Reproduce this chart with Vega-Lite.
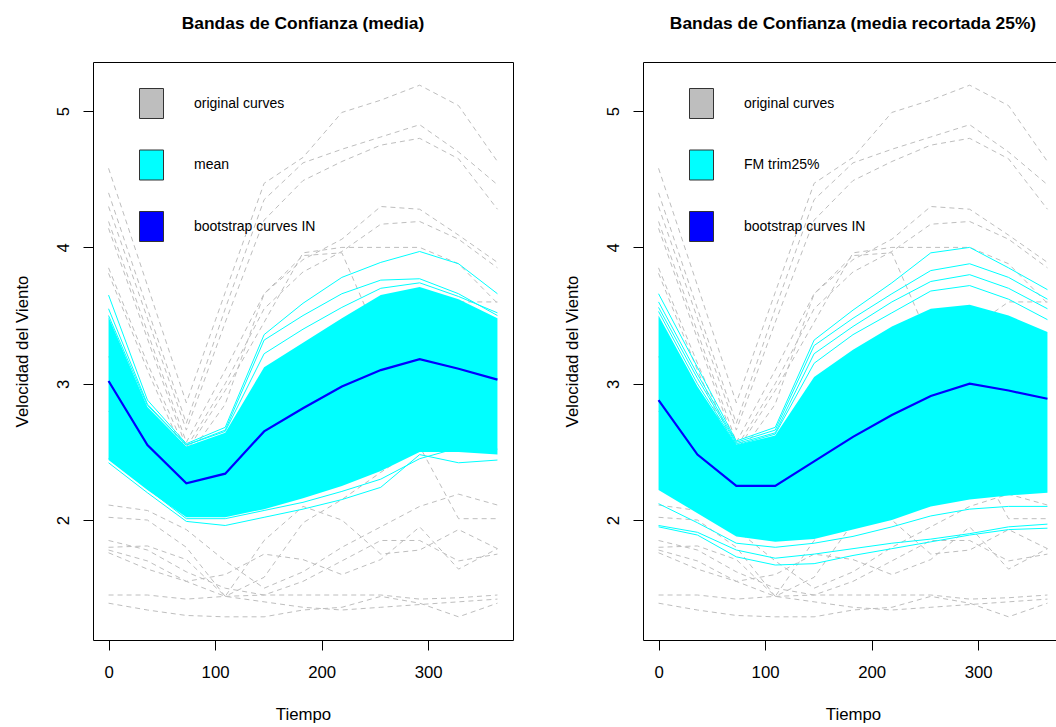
{
  "$schema": "https://vega.github.io/schema/vega-lite/v6.json",
  "usermeta": {"embedOptions": {"actions": false}},
  "background": "white",
  "padding": {"left": 13, "top": 14, "right": 0, "bottom": 0},
  "bounds": "flush",
  "spacing": 130,
  "config": {
    "font": "Liberation Sans",
    "view": {"stroke": "black", "strokeWidth": 1},
    "axis": {"grid": false, "domain": false, "tickColor": "black", "tickSize": 10, "tickWidth": 1, "labelFont": "Liberation Sans", "labelFontSize": 16.8, "labelColor": "black", "titleFont": "Liberation Sans", "titleFontSize": 16.8, "titleFontWeight": "normal", "titleColor": "black", "labelFlush": false, "labelOverlap": false},
    "axisX": {"labelPadding": 14, "labelBaseline": "top", "labelAlign": "center", "titleY": 79, "titleBaseline": "alphabetic", "titleAlign": "center", "titleX": 210},
    "axisY": {"labelAngle": -90, "labelAlign": "center", "labelBaseline": "bottom", "labelPadding": 11, "titleAngle": -90, "titleX": -66, "titleY": 289, "titleAlign": "center", "titleBaseline": "alphabetic"}
  },
  "datasets": {
    "orig": [
      {"c":"G1","t":0,"v":4.58},{"c":"G1","t":36.5,"v":3.72},{"c":"G1","t":73,"v":2.86},{"c":"G1","t":109.5,"v":3.67},{"c":"G1","t":146,"v":4.47},{"c":"G1","t":182.5,"v":4.66},{"c":"G1","t":219,"v":4.99},{"c":"G1","t":255.5,"v":5.08},{"c":"G1","t":292,"v":5.19},{"c":"G1","t":328.5,"v":5.04},{"c":"G1","t":365,"v":4.63},
      {"c":"G2","t":0,"v":4.40},{"c":"G2","t":36.5,"v":3.55},{"c":"G2","t":73,"v":2.71},{"c":"G2","t":109.5,"v":3.55},{"c":"G2","t":146,"v":4.35},{"c":"G2","t":182.5,"v":4.62},{"c":"G2","t":219,"v":4.72},{"c":"G2","t":255.5,"v":4.81},{"c":"G2","t":292,"v":4.90},{"c":"G2","t":328.5,"v":4.70},{"c":"G2","t":365,"v":4.46},
      {"c":"G3","t":0,"v":4.30},{"c":"G3","t":36.5,"v":3.48},{"c":"G3","t":73,"v":2.66},{"c":"G3","t":109.5,"v":3.45},{"c":"G3","t":146,"v":4.20},{"c":"G3","t":182.5,"v":4.49},{"c":"G3","t":219,"v":4.63},{"c":"G3","t":255.5,"v":4.75},{"c":"G3","t":292,"v":4.80},{"c":"G3","t":328.5,"v":4.65},{"c":"G3","t":365,"v":4.28},
      {"c":"G4","t":0,"v":4.19},{"c":"G4","t":36.5,"v":3.38},{"c":"G4","t":73,"v":2.57},{"c":"G4","t":109.5,"v":3.10},{"c":"G4","t":146,"v":3.66},{"c":"G4","t":182.5,"v":3.91},{"c":"G4","t":219,"v":4.06},{"c":"G4","t":255.5,"v":4.30},{"c":"G4","t":292,"v":4.28},{"c":"G4","t":328.5,"v":4.09},{"c":"G4","t":365,"v":3.89},
      {"c":"G5","t":0,"v":4.14},{"c":"G5","t":36.5,"v":3.33},{"c":"G5","t":73,"v":2.53},{"c":"G5","t":109.5,"v":3.00},{"c":"G5","t":146,"v":3.55},{"c":"G5","t":182.5,"v":3.82},{"c":"G5","t":219,"v":3.97},{"c":"G5","t":255.5,"v":4.17},{"c":"G5","t":292,"v":4.19},{"c":"G5","t":328.5,"v":4.06},{"c":"G5","t":365,"v":3.85},
      {"c":"G6","t":0,"v":3.85},{"c":"G6","t":36.5,"v":3.15},{"c":"G6","t":73,"v":2.50},{"c":"G6","t":109.5,"v":2.95},{"c":"G6","t":146,"v":3.45},{"c":"G6","t":182.5,"v":3.96},{"c":"G6","t":219,"v":4.00},{"c":"G6","t":255.5,"v":4.00},{"c":"G6","t":292,"v":4.00},{"c":"G6","t":328.5,"v":3.88},{"c":"G6","t":365,"v":3.59},
      {"c":"G7","t":0,"v":3.81},{"c":"G7","t":36.5,"v":3.10},{"c":"G7","t":73,"v":2.45},{"c":"G7","t":109.5,"v":2.85},{"c":"G7","t":146,"v":3.66},{"c":"G7","t":182.5,"v":3.94},{"c":"G7","t":219,"v":3.96},{"c":"G7","t":255.5,"v":3.30},{"c":"G7","t":292,"v":3.40},{"c":"G7","t":328.5,"v":3.60},{"c":"G7","t":365,"v":3.60},
      {"c":"M1","t":0,"v":3.20},{"c":"M1","t":36.5,"v":2.70},{"c":"M1","t":73,"v":2.30},{"c":"M1","t":109.5,"v":2.45},{"c":"M1","t":146,"v":2.75},{"c":"M1","t":182.5,"v":2.95},{"c":"M1","t":219,"v":3.10},{"c":"M1","t":255.5,"v":3.20},{"c":"M1","t":292,"v":3.25},{"c":"M1","t":328.5,"v":3.15},{"c":"M1","t":365,"v":3.05},
      {"c":"M2","t":0,"v":2.80},{"c":"M2","t":36.5,"v":2.45},{"c":"M2","t":73,"v":2.15},{"c":"M2","t":109.5,"v":2.20},{"c":"M2","t":146,"v":2.45},{"c":"M2","t":182.5,"v":2.65},{"c":"M2","t":219,"v":2.80},{"c":"M2","t":255.5,"v":2.95},{"c":"M2","t":292,"v":3.00},{"c":"M2","t":328.5,"v":2.90},{"c":"M2","t":365,"v":2.80},
      {"c":"B1","t":0,"v":2.11},{"c":"B1","t":36.5,"v":2.07},{"c":"B1","t":73,"v":1.93},{"c":"B1","t":109.5,"v":1.70},{"c":"B1","t":146,"v":1.50},{"c":"B1","t":182.5,"v":1.62},{"c":"B1","t":219,"v":1.80},{"c":"B1","t":255.5,"v":1.95},{"c":"B1","t":292,"v":2.10},{"c":"B1","t":328.5,"v":2.19},{"c":"B1","t":365,"v":2.11},
      {"c":"B2","t":0,"v":2.02},{"c":"B2","t":36.5,"v":2.00},{"c":"B2","t":73,"v":1.80},{"c":"B2","t":109.5,"v":1.44},{"c":"B2","t":146,"v":1.58},{"c":"B2","t":182.5,"v":1.98},{"c":"B2","t":219,"v":2.15},{"c":"B2","t":255.5,"v":2.35},{"c":"B2","t":292,"v":2.54},{"c":"B2","t":328.5,"v":2.01},{"c":"B2","t":365,"v":2.01},
      {"c":"B3","t":0,"v":1.80},{"c":"B3","t":36.5,"v":1.81},{"c":"B3","t":73,"v":1.71},{"c":"B3","t":109.5,"v":1.44},{"c":"B3","t":146,"v":1.85},{"c":"B3","t":182.5,"v":2.10},{"c":"B3","t":219,"v":2.00},{"c":"B3","t":255.5,"v":1.75},{"c":"B3","t":292,"v":1.78},{"c":"B3","t":328.5,"v":1.93},{"c":"B3","t":365,"v":1.79},
      {"c":"B4","t":0,"v":1.78},{"c":"B4","t":36.5,"v":1.70},{"c":"B4","t":73,"v":1.55},{"c":"B4","t":109.5,"v":1.60},{"c":"B4","t":146,"v":1.75},{"c":"B4","t":182.5,"v":1.71},{"c":"B4","t":219,"v":1.60},{"c":"B4","t":255.5,"v":1.71},{"c":"B4","t":292,"v":1.95},{"c":"B4","t":328.5,"v":1.64},{"c":"B4","t":365,"v":1.79},
      {"c":"B5","t":0,"v":1.76},{"c":"B5","t":36.5,"v":1.64},{"c":"B5","t":73,"v":1.55},{"c":"B5","t":109.5,"v":1.44},{"c":"B5","t":146,"v":1.40},{"c":"B5","t":182.5,"v":1.36},{"c":"B5","t":219,"v":1.34},{"c":"B5","t":255.5,"v":1.36},{"c":"B5","t":292,"v":1.38},{"c":"B5","t":328.5,"v":1.40},{"c":"B5","t":365,"v":1.42},
      {"c":"B6","t":0,"v":1.45},{"c":"B6","t":36.5,"v":1.45},{"c":"B6","t":73,"v":1.42},{"c":"B6","t":109.5,"v":1.44},{"c":"B6","t":146,"v":1.45},{"c":"B6","t":182.5,"v":1.45},{"c":"B6","t":219,"v":1.45},{"c":"B6","t":255.5,"v":1.45},{"c":"B6","t":292,"v":1.42},{"c":"B6","t":328.5,"v":1.43},{"c":"B6","t":365,"v":1.45},
      {"c":"B7","t":0,"v":1.39},{"c":"B7","t":36.5,"v":1.34},{"c":"B7","t":73,"v":1.30},{"c":"B7","t":109.5,"v":1.29},{"c":"B7","t":146,"v":1.29},{"c":"B7","t":182.5,"v":1.34},{"c":"B7","t":219,"v":1.36},{"c":"B7","t":255.5,"v":1.44},{"c":"B7","t":292,"v":1.39},{"c":"B7","t":328.5,"v":1.29},{"c":"B7","t":365,"v":1.39},
      {"c":"B8","t":0,"v":1.85},{"c":"B8","t":36.5,"v":1.78},{"c":"B8","t":73,"v":1.62},{"c":"B8","t":109.5,"v":1.50},{"c":"B8","t":146,"v":1.45},{"c":"B8","t":182.5,"v":1.55},{"c":"B8","t":219,"v":1.70},{"c":"B8","t":255.5,"v":1.85},{"c":"B8","t":292,"v":1.85},{"c":"B8","t":328.5,"v":1.70},{"c":"B8","t":365,"v":1.75}
    ],
    "bandL": [
      {"t":0,"v":2.44,"v2":3.49,"s":"mean"},{"t":36.5,"v":2.22,"v2":2.83,"s":"mean"},{"t":73,"v":2.02,"v2":2.54,"s":"mean"},{"t":109.5,"v":2.02,"v2":2.64,"s":"mean"},{"t":146,"v":2.08,"v2":3.12,"s":"mean"},{"t":182.5,"v":2.16,"v2":3.30,"s":"mean"},{"t":219,"v":2.25,"v2":3.48,"s":"mean"},{"t":255.5,"v":2.36,"v2":3.65,"s":"mean"},{"t":292,"v":2.50,"v2":3.71,"s":"mean"},{"t":328.5,"v":2.50,"v2":3.62,"s":"mean"},{"t":365,"v":2.48,"v2":3.48,"s":"mean"}
    ],
    "bandR": [
      {"t":0,"v":2.22,"v2":3.50,"s":"FM trim25%"},{"t":36.5,"v":2.05,"v2":2.98,"s":"FM trim25%"},{"t":73,"v":1.88,"v2":2.55,"s":"FM trim25%"},{"t":109.5,"v":1.84,"v2":2.62,"s":"FM trim25%"},{"t":146,"v":1.86,"v2":3.05,"s":"FM trim25%"},{"t":182.5,"v":1.93,"v2":3.25,"s":"FM trim25%"},{"t":219,"v":2.00,"v2":3.42,"s":"FM trim25%"},{"t":255.5,"v":2.10,"v2":3.55,"s":"FM trim25%"},{"t":292,"v":2.15,"v2":3.58,"s":"FM trim25%"},{"t":328.5,"v":2.18,"v2":3.50,"s":"FM trim25%"},{"t":365,"v":2.20,"v2":3.38,"s":"FM trim25%"}
    ],
    "cyanL": [
      {"c":"L1","t":0,"v":3.65},{"c":"L1","t":36.5,"v":2.88},{"c":"L1","t":73,"v":2.56},{"c":"L1","t":109.5,"v":2.68},{"c":"L1","t":146,"v":3.36},{"c":"L1","t":182.5,"v":3.59},{"c":"L1","t":219,"v":3.78},{"c":"L1","t":255.5,"v":3.89},{"c":"L1","t":292,"v":3.97},{"c":"L1","t":328.5,"v":3.88},{"c":"L1","t":365,"v":3.66},
      {"c":"L2","t":0,"v":3.55},{"c":"L2","t":36.5,"v":2.85},{"c":"L2","t":73,"v":2.55},{"c":"L2","t":109.5,"v":2.66},{"c":"L2","t":146,"v":3.32},{"c":"L2","t":182.5,"v":3.50},{"c":"L2","t":219,"v":3.66},{"c":"L2","t":255.5,"v":3.76},{"c":"L2","t":292,"v":3.77},{"c":"L2","t":328.5,"v":3.66},{"c":"L2","t":365,"v":3.50},
      {"c":"L3","t":0,"v":3.50},{"c":"L3","t":36.5,"v":2.84},{"c":"L3","t":73,"v":2.55},{"c":"L3","t":109.5,"v":2.65},{"c":"L3","t":146,"v":3.22},{"c":"L3","t":182.5,"v":3.40},{"c":"L3","t":219,"v":3.56},{"c":"L3","t":255.5,"v":3.70},{"c":"L3","t":292,"v":3.74},{"c":"L3","t":328.5,"v":3.64},{"c":"L3","t":365,"v":3.52},
      {"c":"L4","t":0,"v":2.42},{"c":"L4","t":36.5,"v":2.20},{"c":"L4","t":73,"v":1.99},{"c":"L4","t":109.5,"v":1.96},{"c":"L4","t":146,"v":2.02},{"c":"L4","t":182.5,"v":2.08},{"c":"L4","t":219,"v":2.15},{"c":"L4","t":255.5,"v":2.24},{"c":"L4","t":292,"v":2.48},{"c":"L4","t":328.5,"v":2.42},{"c":"L4","t":365,"v":2.44},
      {"c":"L5","t":0,"v":2.45},{"c":"L5","t":36.5,"v":2.23},{"c":"L5","t":73,"v":2.01},{"c":"L5","t":109.5,"v":2.01},{"c":"L5","t":146,"v":2.07},{"c":"L5","t":182.5,"v":2.13},{"c":"L5","t":219,"v":2.21},{"c":"L5","t":255.5,"v":2.30},{"c":"L5","t":292,"v":2.45},{"c":"L5","t":328.5,"v":2.53},{"c":"L5","t":365,"v":2.52}
    ],
    "cyanR": [
      {"c":"R1","t":0,"v":3.66},{"c":"R1","t":36.5,"v":3.12},{"c":"R1","t":73,"v":2.58},{"c":"R1","t":109.5,"v":2.68},{"c":"R1","t":146,"v":3.32},{"c":"R1","t":182.5,"v":3.54},{"c":"R1","t":219,"v":3.74},{"c":"R1","t":255.5,"v":3.96},{"c":"R1","t":292,"v":4.00},{"c":"R1","t":328.5,"v":3.85},{"c":"R1","t":365,"v":3.69},
      {"c":"R2","t":0,"v":3.60},{"c":"R2","t":36.5,"v":3.07},{"c":"R2","t":73,"v":2.57},{"c":"R2","t":109.5,"v":2.66},{"c":"R2","t":146,"v":3.28},{"c":"R2","t":182.5,"v":3.48},{"c":"R2","t":219,"v":3.66},{"c":"R2","t":255.5,"v":3.83},{"c":"R2","t":292,"v":3.88},{"c":"R2","t":328.5,"v":3.78},{"c":"R2","t":365,"v":3.62},
      {"c":"R3","t":0,"v":3.56},{"c":"R3","t":36.5,"v":3.04},{"c":"R3","t":73,"v":2.56},{"c":"R3","t":109.5,"v":2.64},{"c":"R3","t":146,"v":3.22},{"c":"R3","t":182.5,"v":3.42},{"c":"R3","t":219,"v":3.60},{"c":"R3","t":255.5,"v":3.75},{"c":"R3","t":292,"v":3.80},{"c":"R3","t":328.5,"v":3.70},{"c":"R3","t":365,"v":3.55},
      {"c":"R4","t":0,"v":3.53},{"c":"R4","t":36.5,"v":3.00},{"c":"R4","t":73,"v":2.55},{"c":"R4","t":109.5,"v":2.63},{"c":"R4","t":146,"v":3.15},{"c":"R4","t":182.5,"v":3.36},{"c":"R4","t":219,"v":3.52},{"c":"R4","t":255.5,"v":3.68},{"c":"R4","t":292,"v":3.72},{"c":"R4","t":328.5,"v":3.62},{"c":"R4","t":365,"v":3.47},
      {"c":"R5","t":0,"v":2.12},{"c":"R5","t":36.5,"v":1.98},{"c":"R5","t":73,"v":1.83},{"c":"R5","t":109.5,"v":1.80},{"c":"R5","t":146,"v":1.83},{"c":"R5","t":182.5,"v":1.88},{"c":"R5","t":219,"v":1.95},{"c":"R5","t":255.5,"v":2.03},{"c":"R5","t":292,"v":2.08},{"c":"R5","t":328.5,"v":2.10},{"c":"R5","t":365,"v":2.10},
      {"c":"R6","t":0,"v":1.95},{"c":"R6","t":36.5,"v":1.89},{"c":"R6","t":73,"v":1.73},{"c":"R6","t":109.5,"v":1.67},{"c":"R6","t":146,"v":1.68},{"c":"R6","t":182.5,"v":1.74},{"c":"R6","t":219,"v":1.79},{"c":"R6","t":255.5,"v":1.84},{"c":"R6","t":292,"v":1.89},{"c":"R6","t":328.5,"v":1.93},{"c":"R6","t":365,"v":1.94},
      {"c":"R7","t":0,"v":1.96},{"c":"R7","t":36.5,"v":1.91},{"c":"R7","t":73,"v":1.78},{"c":"R7","t":109.5,"v":1.72},{"c":"R7","t":146,"v":1.75},{"c":"R7","t":182.5,"v":1.79},{"c":"R7","t":219,"v":1.83},{"c":"R7","t":255.5,"v":1.86},{"c":"R7","t":292,"v":1.90},{"c":"R7","t":328.5,"v":1.95},{"c":"R7","t":365,"v":1.97}
    ],
    "meanL": [
      {"t":0,"v":3.02},{"t":36.5,"v":2.55},{"t":73,"v":2.27},{"t":109.5,"v":2.34},{"t":146,"v":2.65},{"t":182.5,"v":2.82},{"t":219,"v":2.98},{"t":255.5,"v":3.10},{"t":292,"v":3.18},{"t":328.5,"v":3.11},{"t":365,"v":3.03}
    ],
    "meanR": [
      {"t":0,"v":2.88},{"t":36.5,"v":2.48},{"t":73,"v":2.25},{"t":109.5,"v":2.25},{"t":146,"v":2.43},{"t":182.5,"v":2.61},{"t":219,"v":2.77},{"t":255.5,"v":2.91},{"t":292,"v":3.00},{"t":328.5,"v":2.95},{"t":365,"v":2.89}
    ]
  },
  "hconcat": [
    {
      "width": 420,
      "height": 578,
      "title": {"text": "Bandas de Confianza (media)", "fontSize": 17.4, "fontWeight": "bold", "font": "Liberation Sans", "baseline": "alphabetic", "offset": 16, "frame": "group", "anchor": "middle", "color": "black"},
      "layer": [
        {
          "data": {"name": "orig"},
          "mark": {"type": "line", "color": "#BEBEBE", "strokeWidth": 1, "strokeDash": [5, 4], "clip": true},
          "encoding": {
            "x": {"field": "t", "type": "quantitative", "title": "Tiempo", "scale": {"domain": [-14.6, 379.6], "nice": false, "zero": false}, "axis": {"values": [0, 100, 200, 300]}},
            "y": {"field": "v", "type": "quantitative", "title": "Velocidad del Viento", "scale": {"domain": [1.12, 5.36], "nice": false, "zero": false}, "axis": {"values": [2, 3, 4, 5]}},
            "detail": {"field": "c", "type": "nominal"}
          }
        },
        {
          "data": {"name": "bandL"},
          "mark": {"type": "area", "opacity": 1, "clip": true},
          "encoding": {
            "x": {"field": "t", "type": "quantitative", "title": "Tiempo", "scale": {"domain": [-14.6, 379.6], "nice": false, "zero": false}, "axis": {"values": [0, 100, 200, 300]}},
            "y": {"field": "v", "type": "quantitative", "title": "Velocidad del Viento", "scale": {"domain": [1.12, 5.36], "nice": false, "zero": false}, "axis": {"values": [2, 3, 4, 5]}},
            "y2": {"field": "v2"},
            "fill": {"field": "s", "type": "nominal", "scale": {"domain": ["original curves", "mean", "bootstrap curves IN"], "range": ["#BEBEBE", "#00FFFF", "#0000FF"]},
              "legend": {"orient": "none", "legendX": 43, "legendY": 26, "direction": "vertical", "title": null, "symbolType": "M-0.8,-1H0.8V1H-0.8Z", "symbolSize": 900, "symbolStrokeColor": "#333333", "symbolStrokeWidth": 1, "symbolOpacity": 1, "labelFontSize": 14, "labelFont": "Liberation Sans", "labelColor": "black", "labelOffset": 27, "rowPadding": 26.5, "padding": 0, "labelLimit": 300}}
          }
        },
        {
          "data": {"name": "cyanL"},
          "mark": {"type": "line", "color": "#00FFFF", "strokeWidth": 1, "clip": true},
          "encoding": {
            "x": {"field": "t", "type": "quantitative", "title": "Tiempo", "scale": {"domain": [-14.6, 379.6], "nice": false, "zero": false}, "axis": {"values": [0, 100, 200, 300]}},
            "y": {"field": "v", "type": "quantitative", "title": "Velocidad del Viento", "scale": {"domain": [1.12, 5.36], "nice": false, "zero": false}, "axis": {"values": [2, 3, 4, 5]}},
            "detail": {"field": "c", "type": "nominal"}
          }
        },
        {
          "data": {"name": "meanL"},
          "mark": {"type": "line", "color": "#0000FF", "strokeWidth": 2.2, "clip": true},
          "encoding": {
            "x": {"field": "t", "type": "quantitative", "title": "Tiempo", "scale": {"domain": [-14.6, 379.6], "nice": false, "zero": false}, "axis": {"values": [0, 100, 200, 300]}},
            "y": {"field": "v", "type": "quantitative", "title": "Velocidad del Viento", "scale": {"domain": [1.12, 5.36], "nice": false, "zero": false}, "axis": {"values": [2, 3, 4, 5]}}
          }
        }
      ]
    },
    {
      "width": 420,
      "height": 578,
      "title": {"text": "Bandas de Confianza (media recortada 25%)", "fontSize": 17.4, "fontWeight": "bold", "font": "Liberation Sans", "baseline": "alphabetic", "offset": 16, "frame": "group", "anchor": "middle", "color": "black"},
      "layer": [
        {
          "data": {"name": "orig"},
          "mark": {"type": "line", "color": "#BEBEBE", "strokeWidth": 1, "strokeDash": [5, 4], "clip": true},
          "encoding": {
            "x": {"field": "t", "type": "quantitative", "title": "Tiempo", "scale": {"domain": [-14.6, 379.6], "nice": false, "zero": false}, "axis": {"values": [0, 100, 200, 300]}},
            "y": {"field": "v", "type": "quantitative", "title": "Velocidad del Viento", "scale": {"domain": [1.12, 5.36], "nice": false, "zero": false}, "axis": {"values": [2, 3, 4, 5]}},
            "detail": {"field": "c", "type": "nominal"}
          }
        },
        {
          "data": {"name": "bandR"},
          "mark": {"type": "area", "opacity": 1, "clip": true},
          "encoding": {
            "x": {"field": "t", "type": "quantitative", "title": "Tiempo", "scale": {"domain": [-14.6, 379.6], "nice": false, "zero": false}, "axis": {"values": [0, 100, 200, 300]}},
            "y": {"field": "v", "type": "quantitative", "title": "Velocidad del Viento", "scale": {"domain": [1.12, 5.36], "nice": false, "zero": false}, "axis": {"values": [2, 3, 4, 5]}},
            "y2": {"field": "v2"},
            "fill": {"field": "s", "type": "nominal", "scale": {"domain": ["original curves", "FM trim25%", "bootstrap curves IN"], "range": ["#BEBEBE", "#00FFFF", "#0000FF"]},
              "legend": {"orient": "none", "legendX": 43, "legendY": 26, "direction": "vertical", "title": null, "symbolType": "M-0.8,-1H0.8V1H-0.8Z", "symbolSize": 900, "symbolStrokeColor": "#333333", "symbolStrokeWidth": 1, "symbolOpacity": 1, "labelFontSize": 14, "labelFont": "Liberation Sans", "labelColor": "black", "labelOffset": 27, "rowPadding": 26.5, "padding": 0, "labelLimit": 300}}
          }
        },
        {
          "data": {"name": "cyanR"},
          "mark": {"type": "line", "color": "#00FFFF", "strokeWidth": 1, "clip": true},
          "encoding": {
            "x": {"field": "t", "type": "quantitative", "title": "Tiempo", "scale": {"domain": [-14.6, 379.6], "nice": false, "zero": false}, "axis": {"values": [0, 100, 200, 300]}},
            "y": {"field": "v", "type": "quantitative", "title": "Velocidad del Viento", "scale": {"domain": [1.12, 5.36], "nice": false, "zero": false}, "axis": {"values": [2, 3, 4, 5]}},
            "detail": {"field": "c", "type": "nominal"}
          }
        },
        {
          "data": {"name": "meanR"},
          "mark": {"type": "line", "color": "#0000FF", "strokeWidth": 2.2, "clip": true},
          "encoding": {
            "x": {"field": "t", "type": "quantitative", "title": "Tiempo", "scale": {"domain": [-14.6, 379.6], "nice": false, "zero": false}, "axis": {"values": [0, 100, 200, 300]}},
            "y": {"field": "v", "type": "quantitative", "title": "Velocidad del Viento", "scale": {"domain": [1.12, 5.36], "nice": false, "zero": false}, "axis": {"values": [2, 3, 4, 5]}}
          }
        }
      ]
    }
  ],
  "resolve": {"scale": {"fill": "independent"}, "legend": {"fill": "independent"}}
}
